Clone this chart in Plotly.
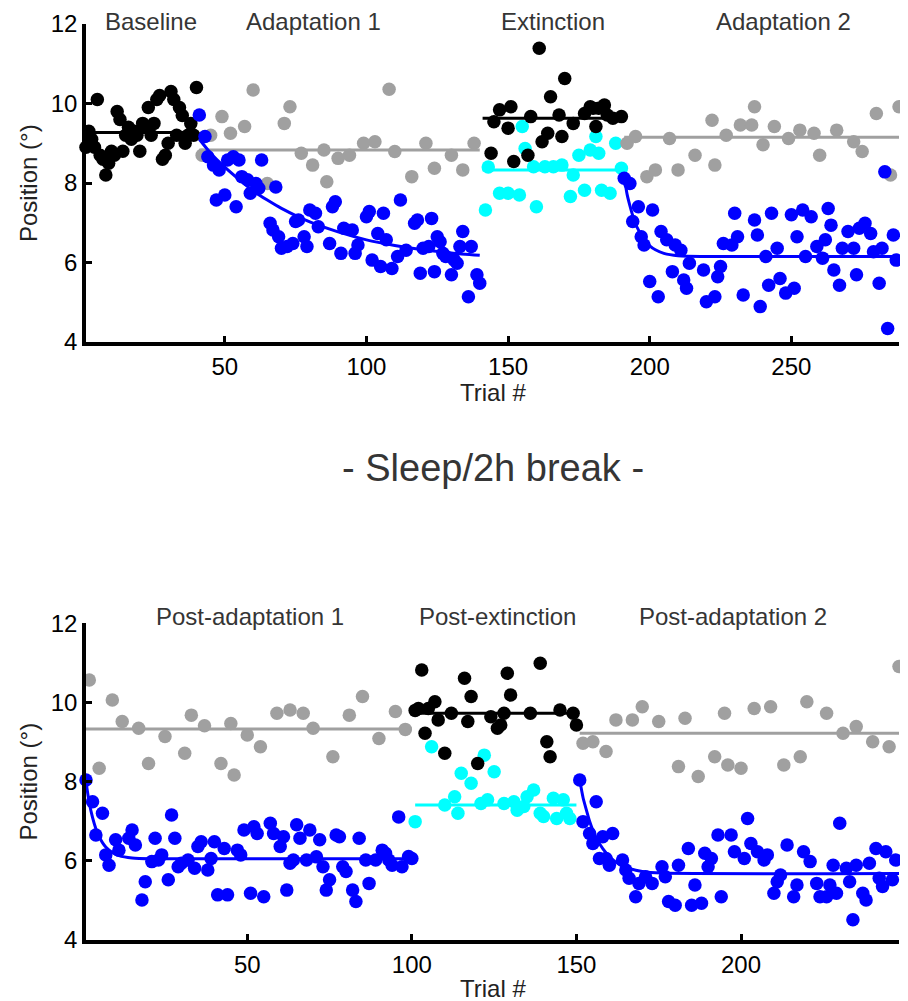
import plotly.graph_objects as go

# ---------------- DATA: top panel (session 1) ----------------
baseline_trials = list(range(1, 41))
baseline_vals = [8.9, 9.3, 9.1, 8.9, 10.1, 8.7, 8.6, 8.2, 8.5, 8.8,
                 8.7, 9.8, 9.6, 8.8, 9.2, 9.4, 9.1, 9.3, 9.2, 8.8,
                 9.5, 9.4, 9.9, 9.2, 9.5, 10.1, 10.2, 8.6, 8.7, 9.0,
                 10.3, 10.1, 9.2, 9.9, 9.7, 9.0, 9.2, 9.5, 9.2, 10.4]
baseline_level = 9.27

adapt1_gray_trials = [42, 45, 49, 52, 57, 60, 65, 71, 73, 77, 81, 85, 86, 90, 94,
                      99, 103, 108, 110, 116, 121, 124, 130, 134, 138]
adapt1_gray_vals = [8.70, 9.20, 9.67, 9.25, 9.42, 10.34, 7.99, 9.50, 9.92, 8.75, 8.45,
                    8.83, 8.03, 8.62, 8.70, 9.00, 9.04, 10.36, 8.79, 8.16, 9.00, 8.37,
                    8.70, 8.33, 9.00]
adapt1_gray_level = 8.83

adapt1_blue_trials = [41, 43, 44, 46, 47, 48, 50, 51, 53, 54, 55, 56, 58, 59, 61, 62, 63,
                      66, 67, 68, 69, 70, 72, 74, 75, 76, 78, 79, 80, 82, 83, 87, 88, 89,
                      91, 92, 95, 96, 97, 100, 101, 102, 104, 105, 106, 107, 109, 111, 112,
                      114, 117, 118, 119, 120, 122, 123, 124, 125, 126, 127, 128, 130, 131,
                      132, 133, 134, 136, 137, 139, 140]
adapt1_blue_vals = [9.71, 9.17, 8.66, 8.45, 7.57, 8.33, 7.70, 8.58, 8.66, 7.40, 8.58, 8.16,
                    8.08, 7.74, 7.99, 7.87, 8.58, 6.99, 6.82, 7.90, 6.65, 6.36, 6.40, 6.48,
                    7.03, 7.07, 6.65, 6.40, 7.32, 7.24, 6.90, 6.48, 7.40, 7.53, 6.23, 6.86,
                    6.82, 6.23, 6.44, 7.15, 7.28, 6.06, 6.73, 5.90, 7.24, 6.57, 5.85, 6.15,
                    7.57, 6.31, 6.99, 7.07, 5.73, 6.36, 6.40, 7.11, 5.77, 6.65, 6.52, 6.23,
                    6.15, 5.69, 6.06, 5.98, 6.40, 6.78, 5.14, 6.40, 5.69, 5.48]
adapt1_fit_trials = [41, 45, 50, 55, 60, 65, 70, 80, 90, 100, 110, 120, 130, 140]
adapt1_fit_vals = [9.10, 8.75, 8.40, 8.09, 7.80, 7.57, 7.36, 7.02, 6.77, 6.57, 6.43, 6.32, 6.24, 6.18]

ext_black_trials = [144, 145, 147, 150, 151, 152, 157, 158, 161, 162, 164, 165, 168, 169,
                    170, 173, 177, 179, 180, 181, 182, 184, 185, 187, 190]
ext_black_vals = [8.75, 9.54, 9.84, 9.38, 9.92, 8.54, 8.70, 9.67, 11.39, 9.04, 9.25, 10.17,
                  9.71, 9.17, 10.63, 9.50, 9.75, 9.92, 9.88, 9.42, 9.88, 9.96, 9.71, 9.63, 9.67]
ext_black_level = 9.63

ext_cyan_trials = [142, 143, 147, 150, 154, 155, 156, 159, 160, 163, 166, 169, 172, 173,
                   175, 177, 179, 181, 182, 183, 186, 188, 190]
ext_cyan_vals = [7.32, 8.40, 7.74, 7.74, 7.70, 9.42, 8.87, 8.41, 7.40, 8.41, 8.41, 8.45,
                 7.66, 8.20, 8.70, 7.82, 8.83, 9.17, 8.75, 7.82, 7.74, 9.00, 8.37]
ext_cyan_level = 8.33

adapt2_gray_trials = [192, 195, 199, 202, 207, 210, 216, 222, 223, 227, 232, 236, 237, 240,
                      244, 249, 253, 258, 260, 266, 272, 275, 280, 285, 288]
adapt2_gray_vals = [9.00, 9.17, 8.16, 8.33, 9.12, 8.33, 8.70, 9.58, 8.45, 9.20, 9.46, 9.46,
                    9.92, 8.96, 9.42, 9.12, 9.33, 9.25, 8.70, 9.33, 9.04, 8.79, 9.75, 8.20, 9.92]
adapt2_gray_level = 9.15

adapt2_blue_trials = [191, 193, 194, 196, 197, 198, 200, 201, 203, 204, 206, 208, 209, 211,
                      212, 213, 214, 219, 220, 223, 224, 225, 226, 229, 230, 231, 233, 237,
                      238, 239, 241, 242, 243, 245, 246, 248, 250, 251, 252, 254, 255, 257,
                      259, 261, 262, 263, 264, 265, 267, 268, 270, 272, 273, 274, 276, 278,
                      279, 281, 282, 283, 284, 286, 287]
adapt2_blue_vals = [8.12, 7.99, 7.03, 7.40, 6.65, 6.44, 5.52, 7.32, 5.14, 6.78, 6.57, 5.77,
                    6.44, 6.31, 5.56, 5.35, 5.98, 5.81, 5.01, 5.14, 5.64, 5.90, 6.48, 6.44,
                    7.24, 6.65, 5.18, 7.07, 6.69, 4.89, 6.15, 5.43, 7.24, 6.36, 5.60, 5.23,
                    7.20, 5.35, 6.65, 7.32, 6.15, 7.15, 6.40, 6.11, 6.57, 7.36, 6.94, 5.81,
                    5.43, 6.36, 6.78, 6.36, 5.69, 6.86, 6.99, 6.73, 6.27, 5.48, 6.36, 8.28,
                    4.34, 6.69, 6.06]
adapt2_fit_trials = [191, 192, 193, 194, 195, 196, 197, 198, 200, 202, 205, 210, 220, 288]
adapt2_fit_vals = [8.15, 7.72, 7.43, 7.18, 6.97, 6.82, 6.69, 6.57, 6.42, 6.32, 6.23, 6.17, 6.15, 6.15]

top_phase_names = ["Baseline", "Adaptation 1", "Extinction", "Adaptation 2"]

# ---------------- DATA: bottom panel (session 2) ----------------
padapt1_gray_trials = [2, 5, 9, 12, 17, 20, 25, 31, 33, 37, 42, 45, 46, 50, 54, 59, 63, 67,
                       70, 76, 81, 85, 90, 95, 98]
padapt1_gray_vals = [10.57, 8.34, 10.06, 9.52, 9.35, 8.46, 9.14, 8.72, 9.68, 9.41, 8.46, 9.47,
                     8.17, 9.18, 8.88, 9.73, 9.81, 9.73, 9.35, 8.63, 9.68, 10.15, 9.09, 9.77, 9.32]
padapt1_gray_level = 9.33

padapt1_blue_trials = [1, 3, 4, 6, 7, 8, 10, 11, 14, 15, 16, 18, 19, 21, 22, 23, 24, 26, 27,
                       28, 29, 30, 32, 34, 35, 36, 38, 39, 40, 41, 43, 44, 47, 48, 49, 51, 52,
                       53, 55, 57, 58, 60, 61, 62, 63, 64, 65, 66, 68, 69, 71, 72, 73, 74, 75,
                       77, 78, 79, 80, 82, 83, 84, 86, 87, 89, 91, 92, 93, 94, 96, 97, 99, 100]
padapt1_blue_vals = [8.04, 7.49, 6.65, 7.20, 6.15, 5.89, 6.53, 6.27, 6.57, 6.78, 6.40, 5.01,
                     5.47, 5.98, 6.57, 6.02, 6.15, 5.52, 7.16, 6.57, 5.85, 5.94, 6.02, 5.81,
                     6.36, 6.48, 5.77, 6.06, 6.48, 5.14, 6.31, 5.14, 6.27, 6.15, 6.78, 5.18,
                     6.86, 6.69, 5.09, 6.95, 6.69, 6.36, 6.61, 5.26, 5.94, 6.02, 6.91, 6.57,
                     6.02, 6.78, 6.10, 6.53, 5.85, 5.26, 5.52, 6.65, 6.61, 5.85, 5.73, 5.26,
                     4.97, 6.57, 6.02, 5.43, 6.02, 6.27, 6.19, 6.02, 5.89, 7.11, 5.85, 6.11, 6.06]
padapt1_fit_trials = [1, 2, 3, 4, 5, 6, 7, 9, 11, 15, 21, 100]
padapt1_fit_vals = [8.00, 7.46, 7.09, 6.81, 6.61, 6.46, 6.35, 6.21, 6.13, 6.07, 6.05, 6.05]

pext_black_trials = [101, 102, 103, 104, 105, 107, 108, 110, 112, 116, 117, 118, 120, 124,
                     126, 127, 128, 129, 130, 136, 139, 141, 142, 145, 149, 150]
pext_black_vals = [9.80, 9.85, 10.82, 9.22, 9.85, 10.02, 9.56, 8.72, 9.73, 10.61, 9.52, 10.15,
                   8.46, 9.64, 9.35, 9.43, 9.73, 10.74, 10.19, 9.73, 10.99, 9.01, 8.63, 9.81,
                   9.73, 9.43]
pext_black_level = 9.73

pext_cyan_trials = [101, 106, 110, 113, 114, 115, 118, 121, 122, 123, 125, 128, 131, 132,
                    134, 135, 137, 139, 140, 143, 144, 146, 147, 148]
pext_cyan_vals = [6.99, 8.88, 7.41, 7.62, 7.20, 8.21, 7.96, 7.45, 8.67, 7.54, 8.25, 7.45,
                  7.49, 7.28, 7.37, 7.62, 7.79, 7.20, 7.12, 7.58, 7.07, 7.54, 7.20, 7.07]
pext_cyan_level = 7.41

padapt2_gray_trials = [152, 155, 159, 162, 167, 170, 175, 181, 183, 187, 192, 195, 196, 200,
                       204, 209, 213, 218, 220, 226, 231, 235, 240, 245, 248]
padapt2_gray_vals = [8.97, 9.01, 8.76, 9.56, 9.56, 9.89, 9.52, 8.38, 9.60, 8.13, 8.63, 9.73,
                     8.42, 8.34, 9.85, 9.89, 8.42, 8.63, 10.02, 9.73, 9.22, 9.39, 9.01, 8.88, 10.91]
padapt2_gray_level = 9.22

padapt2_blue_trials = [151, 152, 154, 155, 156, 157, 158, 159, 160, 161, 164, 165, 166, 168,
                       169, 171, 173, 176, 177, 178, 180, 181, 184, 185, 186, 188, 189, 190,
                       191, 193, 194, 197, 198, 201, 202, 203, 205, 207, 208, 210, 211, 212,
                       214, 216, 217, 219, 221, 223, 224, 226, 227, 228, 229, 230, 232, 233,
                       234, 235, 237, 238, 239, 241, 242, 243, 244, 246, 247]
padapt2_blue_vals = [8.04, 6.99, 6.69, 6.44, 7.49, 6.06, 6.61, 6.06, 5.89, 6.69, 6.02, 5.77,
                     5.56, 5.09, 5.43, 5.60, 5.43, 5.85, 5.60, 4.97, 4.88, 5.89, 6.31, 4.88,
                     5.39, 4.93, 6.19, 5.85, 6.06, 6.65, 5.09, 6.65, 6.23, 6.06, 7.07, 6.44,
                     6.23, 6.02, 6.15, 5.18, 5.47, 5.64, 6.40, 5.09, 5.39, 6.23, 5.98, 5.43,
                     5.09, 5.09, 5.39, 5.89, 5.18, 6.95, 5.81, 5.47, 4.51, 5.89, 5.18, 5.01,
                     5.94, 6.31, 5.56, 5.35, 6.23, 5.52, 6.02]
padapt2_fit_trials = [151, 152, 153, 154, 155, 156, 158, 160, 163, 166, 170, 176, 248]
padapt2_fit_vals = [8.04, 7.60, 7.29, 7.00, 6.77, 6.58, 6.31, 6.11, 5.91, 5.81, 5.73, 5.69, 5.68]

bottom_phase_names = ["Post-adaptation 1", "Post-extinction", "Post-adaptation 2"]

y_ticks = [4, 6, 8, 10, 12]
top_x_ticks = [50, 100, 150, 200, 250]
bottom_x_ticks = [50, 100, 150, 200]
break_label = "- Sleep/2h break -"
y_title = "Position (°)"
x_title = "Trial #"

# ---------------- STYLE ----------------
BLUE = "#0000FF"
CYAN = "#00FFFF"
GRAY = "#A0A0A0"
BLACK = "#000000"
TEXT = "#353535"
FONT = "Liberation Sans, Arial, sans-serif"
MS = 13.5
LW = 3

fig = go.Figure()


def pts(xs, ys, color, ax):
    fig.add_trace(go.Scatter(x=xs, y=ys, mode="markers", xaxis=ax[0], yaxis=ax[1],
                             marker=dict(size=MS, color=color, line=dict(width=0)),
                             cliponaxis=False, showlegend=False, hoverinfo="x+y"))


def level(xs, lvl, color, ax):
    fig.add_trace(go.Scatter(x=[min(xs), max(xs)], y=[lvl, lvl], mode="lines",
                             xaxis=ax[0], yaxis=ax[1], line=dict(color=color, width=LW),
                             showlegend=False, hoverinfo="skip"))


def curve(xs, ys, color, ax):
    fig.add_trace(go.Scatter(x=xs, y=ys, mode="lines", xaxis=ax[0], yaxis=ax[1],
                             line=dict(color=color, width=LW, shape="spline", smoothing=0.6),
                             showlegend=False, hoverinfo="skip"))


T = ("x", "y")
B = ("x2", "y2")

# top panel
pts(baseline_trials, baseline_vals, BLACK, T)
level(baseline_trials, baseline_level, BLACK, T)
pts(adapt1_gray_trials, adapt1_gray_vals, GRAY, T)
level(adapt1_blue_trials, adapt1_gray_level, GRAY, T)
pts(adapt1_blue_trials, adapt1_blue_vals, BLUE, T)
curve(adapt1_fit_trials, adapt1_fit_vals, BLUE, T)
pts(ext_cyan_trials, ext_cyan_vals, CYAN, T)
level([141, 190], ext_cyan_level, CYAN, T)
pts(ext_black_trials, ext_black_vals, BLACK, T)
level([141, 190], ext_black_level, BLACK, T)
pts(adapt2_gray_trials, adapt2_gray_vals, GRAY, T)
level(adapt2_gray_trials + adapt2_blue_trials, adapt2_gray_level, GRAY, T)
pts(adapt2_blue_trials, adapt2_blue_vals, BLUE, T)
curve(adapt2_fit_trials, adapt2_fit_vals, BLUE, T)

# bottom panel
pts(padapt1_gray_trials, padapt1_gray_vals, GRAY, B)
level(padapt1_blue_trials, padapt1_gray_level, GRAY, B)
pts(padapt1_blue_trials, padapt1_blue_vals, BLUE, B)
curve(padapt1_fit_trials, padapt1_fit_vals, BLUE, B)
pts(pext_cyan_trials, pext_cyan_vals, CYAN, B)
level([101, 150], pext_cyan_level, CYAN, B)
pts(pext_black_trials, pext_black_vals, BLACK, B)
level([101, 150], pext_black_level, BLACK, B)
pts(padapt2_gray_trials, padapt2_gray_vals, GRAY, B)
level(padapt2_blue_trials + padapt2_gray_trials, padapt2_gray_level, GRAY, B)
pts(padapt2_blue_trials, padapt2_blue_vals, BLUE, B)
curve(padapt2_fit_trials, padapt2_fit_vals, BLUE, B)

# page body has an 8px default margin: lay out in window pixels minus that offset
OFF = 8
W, H = 908 - OFF, 1001 - OFF


def px_x(p):
    return (p - OFF) / W


def px_y(p):
    return 1 - (p - OFF) / H


xdom = [px_x(86), px_x(899)]
top_ydom = [px_y(342), px_y(24)]
bot_ydom = [px_y(940), px_y(623.3)]
axis_common = dict(showline=True, linecolor=BLACK, linewidth=3.5, ticks="inside",
                   ticklen=6, tickwidth=3, tickcolor=BLACK, showgrid=False,
                   zeroline=False, mirror=False, automargin=False,
                   tickfont=dict(family=FONT, size=24, color=BLACK))

fig.update_layout(
    width=W, height=H, margin=dict(l=0, r=0, t=0, b=0, autoexpand=False),
    paper_bgcolor="white", plot_bgcolor="white",
    font=dict(family=FONT),
    xaxis=dict(domain=xdom, range=[1, 288], tickvals=top_x_ticks, anchor="y", **axis_common),
    yaxis=dict(domain=top_ydom, range=[4, 12], tickvals=y_ticks, anchor="x", **axis_common),
    xaxis2=dict(domain=xdom, range=[1, 248], tickvals=bottom_x_ticks, anchor="y2", **axis_common),
    yaxis2=dict(domain=bot_ydom, range=[4, 12], tickvals=y_ticks, anchor="x2", **axis_common),
)

# phase titles (positions are layout)
top_title_x = [23.9, 81.2, 165.9, 247.4]
bottom_title_x = [50.9, 126.0, 197.7]
ann = []
for name, xc in zip(top_phase_names, top_title_x):
    ann.append(dict(text=name, x=xc, y=px_y(22), xref="x", yref="paper",
                    showarrow=False, xanchor="center", yanchor="middle",
                    font=dict(family=FONT, size=24, color=TEXT)))
for name, xc in zip(bottom_phase_names, bottom_title_x):
    ann.append(dict(text=name, x=xc, y=px_y(616), xref="x2", yref="paper",
                    showarrow=False, xanchor="center", yanchor="middle",
                    font=dict(family=FONT, size=24, color=TEXT)))
# axis titles
for yc in [183, 781.5]:
    ann.append(dict(text=y_title, x=px_x(28), y=px_y(yc), xref="paper", yref="paper",
                    showarrow=False, textangle=-90, xanchor="center", yanchor="middle",
                    font=dict(family=FONT, size=24, color="#222222")))
for yc in [392, 988]:
    ann.append(dict(text=x_title, x=px_x(492.5), y=px_y(yc), xref="paper", yref="paper",
                    showarrow=False, xanchor="center", yanchor="middle",
                    font=dict(family=FONT, size=24, color="#222222")))
ann.append(dict(text=break_label, x=px_x(492.5), y=px_y(468), xref="paper", yref="paper",
                showarrow=False, xanchor="center", yanchor="middle",
                font=dict(family=FONT, size=38, color=TEXT)))
fig.update_layout(annotations=ann)

fig.write_html("out.html")
